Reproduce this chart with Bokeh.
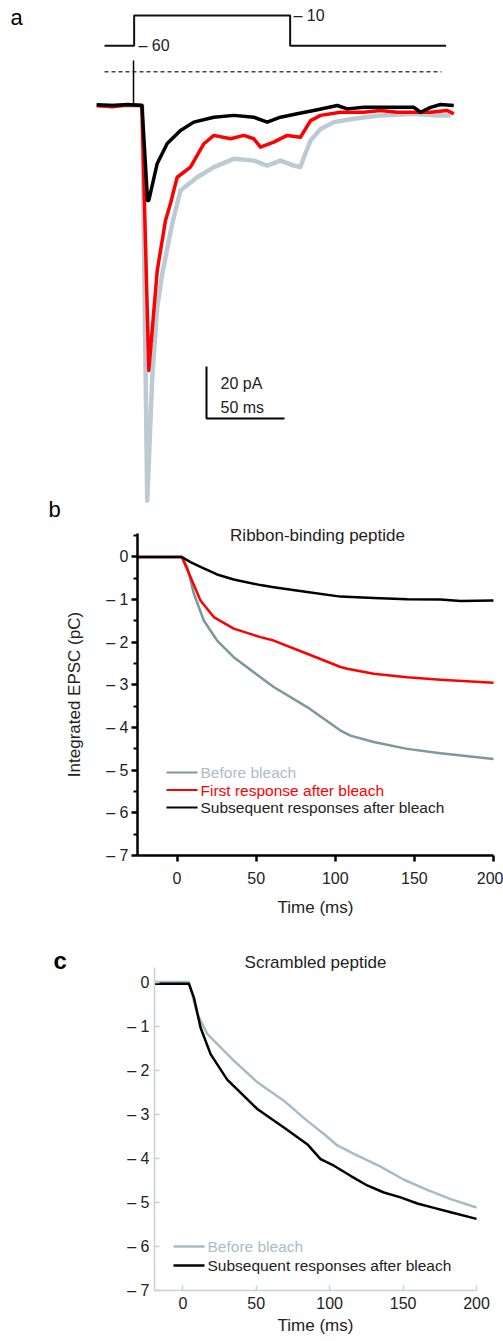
from bokeh.plotting import figure
from bokeh.models import Range1d, Label, FixedTicker, LinearAxis
from bokeh.embed import file_html
from bokeh.resources import INLINE

FONT = "Liberation Sans"

# ---------------- data ----------------
# panel a: EPSC traces (time ms, current pA)
a_gray_t = [-30, -20, -10, -0.8, 2.4, 5.6, 8.8, 12.0, 18.4, 23.7, 34.4, 45.1, 57.9, 70.7, 79.3, 87.8,
            96.3, 100.6, 102.8, 107.1, 113.5, 122.0, 134.8, 151.9, 173.3, 186.1, 196.8]
a_gray_i = [0, 0, 0, 0, -152, -104.5, -77.6, -64.7, -45.5, -32.7, -27.6, -23.7, -20.5, -21.2, -23.1, -21.2,
            -23.1, -23.7, -19.9, -13.5, -9.0, -6.4, -5.1, -3.8, -3.2, -3.8, -3.8]
a_red_t = [-30, -20, -10, -1, 3.4, 4.5, 8.8, 14.1, 17.3, 19.4, 21.6, 30.1, 38.7, 45.1, 55.8, 64.3, 70.7,
           75.0, 83.5, 92.1, 100.6, 107.1, 113.5, 126.3, 141.2, 151.9, 162.6, 173.3, 184.0, 194.7, 198.9]
a_red_i = [0, -0.5, 0.3, 0, -101.9, -94.2, -63.5, -44.2, -37.7, -32.7, -27.6, -23.7, -14.7, -11.5, -12.8,
           -11.5, -12.8, -16.0, -14.1, -11.5, -12.2, -5.8, -3.8, -2.6, -2.6, -1.9, -2.6, -2.6, -2.6, -1.9, -3.2]
a_black_t = [-30, -20, -10, -1, 2.6, 3.4, 8.8, 15.2, 23.7, 32.2, 45.1, 57.9, 70.7, 79.3, 87.8, 98.5, 109.2,
             124.2, 130.6, 141.2, 151.9, 162.6, 173.3, 177.6, 184.0, 190.4, 198.9]
a_black_i = [0.3, 0, 0.4, 0, -36.5, -36.5, -22.3, -14.6, -9.6, -6.4, -4.5, -3.8, -4.5, -6.4, -4.5, -3.2,
             -1.9, 0, -1.3, -0.7, -0.7, -0.7, -0.7, -2.6, -0.7, 0.4, 0]
a_artifact_t = [-6.4, -6.4]
a_artifact_i = [0.8, 17.3]
# command voltage schematic (step -60 -> -10 mV), drawn above the traces
step_t = [-25, -6, -6, 94, 94, 194]
step_level = [23, 23, 34.6, 34.6, 23, 23]
zero_t = [-25, 191]
zero_i = [13, 13]
step_labels = ["– 60", "– 10"]
scalebar_ms = 50
scalebar_pa = 20
scalebar_labels = ["20 pA", "50 ms"]

# panel b: integrated EPSC (pC), ribbon-binding peptide
b_gray_t = [-25, 3, 6.4, 10.6, 16.9, 25.3, 35.8, 52.7, 61.1, 82.2, 103.3, 109.6, 124.3, 145.4, 166.5, 200]
b_gray_v = [0, 0, -0.23, -0.86, -1.49, -1.96, -2.35, -2.82, -3.05, -3.52, -4.07, -4.19, -4.34, -4.50, -4.60, -4.74]
b_red_t = [-25, 3, 8.5, 14.8, 23.2, 35.8, 52.7, 61.1, 82.2, 103.3, 107.5, 124.3, 145.4, 166.5, 200]
b_red_v = [0, 0, -0.47, -1.02, -1.41, -1.68, -1.88, -1.96, -2.27, -2.58, -2.62, -2.74, -2.82, -2.88, -2.95]
b_black_t = [-25, 3, 8.5, 14.8, 25.3, 35.8, 52.7, 61.1, 82.2, 103.3, 124.3, 145.4, 166.5, 179.1, 200]
b_black_v = [0, 0, -0.12, -0.23, -0.41, -0.53, -0.66, -0.71, -0.82, -0.93, -0.96, -0.99, -1.0, -1.03, -1.02]
b_legend = ["Before bleach", "First response after bleach", "Subsequent responses after bleach"]

# panel c: integrated EPSC (pC), scrambled peptide
c_gray_t = [-19.3, 4.1, 9.8, 16.6, 34.7, 50.7, 68.8, 84.7, 96.1, 105.2, 116.5, 134.7, 150.6, 166.5, 182.4, 200]
c_gray_v = [0.02, 0.02, -0.70, -1.16, -1.77, -2.26, -2.68, -3.14, -3.44, -3.70, -3.89, -4.18, -4.48, -4.71, -4.92, -5.11]
c_black_t = [-19.3, 4.1, 7.5, 12.1, 18.9, 30.2, 50.7, 68.8, 84.7, 93.8, 102.9, 114.2, 125.6, 136.9, 148.3,
             159.7, 171.0, 182.4, 200]
c_black_v = [-0.02, -0.02, -0.33, -1.02, -1.62, -2.2, -2.87, -3.29, -3.67, -4.01, -4.16, -4.39, -4.61, -4.77,
             -4.88, -5.02, -5.12, -5.22, -5.37]
c_legend = ["Before bleach", "Subsequent responses after bleach"]

x_ticks = [0, 50, 100, 150, 200]
y_ticks = [0, -1, -2, -3, -4, -5, -6, -7]
y_minor_b = [0.5, -0.5, -1.5, -2.5, -3.5, -4.5, -5.5, -6.5]
b_xlim = (-25, 200)
b_ylim = (-7, 0.55)
c_xlim = (-19.3, 200)
c_ylim = (-7, 0.35)

# ---------------- styles ----------------
RED = "#ff0000"
BLACK = "#000000"
GRAY_A = "#bccbd3"
GRAY_B = "#7d979e"
GRAY_C = "#a5bcc6"
GRAY_TXT = "#a9bec8"
TXT = "#222222"
W, H = 503, 1341


# page-pixel -> data converters for each panel (one canvas, three coordinate systems)
def ax(X):
    return (X - 143) / 1.56          # panel a: 1.56 px per ms, t=0 at page x 143


def ay(Y):
    return (105 - Y) / 2.6           # panel a: 2.6 px per pA, 0 pA at page y 105


def bx(X):
    return -25 + (X - 137) * 225 / 356


def by(Y):
    return 0.55 - (Y - 533) * 7.55 / 322


def cx(X):
    return -19.3 + (X - 154) * 219.3 / 322


def cy(Y):
    return 0.35 - (Y - 967) * 7.35 / 323


p = figure(width=W, height=H, x_range=Range1d(bx(0), bx(W)), y_range=Range1d(by(H), by(0)),
           output_backend="svg", toolbar_location=None, min_border=0, min_border_left=0,
           min_border_right=0, min_border_top=0, min_border_bottom=0,
           x_axis_label="Time (ms)", y_axis_label="Integrated EPSC (pC)")
p.extra_x_ranges = {"a": Range1d(ax(0), ax(W)), "c": Range1d(cx(0), cx(W))}
p.extra_y_ranges = {"a": Range1d(ay(H), ay(0)), "c": Range1d(cy(H), cy(0))}
p.outline_line_color = None
p.xgrid.visible = False
p.ygrid.visible = False
p.background_fill_color = "white"
p.border_fill_color = "white"


def lab(x, y, text, rn="default", size="16px", color=TXT, align="left", baseline="middle", style="normal"):
    p.add_layout(Label(x=x, y=y, text=text, text_font=FONT, text_font_size=size, text_color=color,
                       text_align=align, text_baseline=baseline, text_font_style=style,
                       x_range_name=rn, y_range_name=rn))


def style_axis(axis, color, lw, tick_in, tick_out):
    axis.axis_line_width = lw
    axis.axis_line_color = color
    axis.major_tick_line_width = lw
    axis.major_tick_line_color = color
    axis.minor_tick_line_width = lw * 0.8
    axis.minor_tick_line_color = color
    axis.major_tick_in = tick_in
    axis.major_tick_out = tick_out
    axis.minor_tick_in = 0
    axis.minor_tick_out = 4
    axis.major_label_text_font = FONT
    axis.major_label_text_font_size = "16px"
    axis.major_label_text_color = TXT
    axis.axis_label_text_font = FONT
    axis.axis_label_text_font_size = "17px"
    axis.axis_label_text_font_style = "normal"
    axis.axis_label_text_color = TXT


dash_labels = {t: ("0" if t == 0 else "– %d" % abs(t)) for t in y_ticks}

# ---------------- panel a ----------------
A = dict(x_range_name="a", y_range_name="a")
p.line(step_t, step_level, line_color="#111111", line_width=2, **A)
p.line(zero_t, zero_i, line_color="#444444", line_width=1.5, line_dash="4 3", **A)
p.line(a_gray_t, a_gray_i, line_color=GRAY_A, line_width=4.5, line_join="round", **A)
p.line(a_red_t, a_red_i, line_color=RED, line_width=3.5, line_join="round", **A)
p.line(a_black_t, a_black_i, line_color=BLACK, line_width=3.5, line_join="round", **A)
p.line(a_artifact_t, a_artifact_i, line_color=BLACK, line_width=1.5, **A)
sb_x, sb_y = ax(206), ay(418)
p.line([sb_x, sb_x, sb_x + scalebar_ms], [sb_y + scalebar_pa, sb_y, sb_y], line_color=BLACK, line_width=2, **A)
lab(ax(220), ay(383), scalebar_labels[0], "a")
lab(ax(220), ay(407), scalebar_labels[1], "a")
lab(ax(138), step_level[0], step_labels[0], "a")
lab(ax(293), step_level[2], step_labels[1], "a")
lab(ax(10), ay(17), "a", "a", size="22px", color=BLACK)

# ---------------- panel b (default ranges) ----------------
lab(bx(48), by(509), "b", size="22px", color=BLACK)
p.xaxis.fixed_location = b_ylim[0]
p.yaxis.fixed_location = b_xlim[0]
p.xaxis.bounds = b_xlim
p.yaxis.bounds = b_ylim
p.xaxis.ticker = FixedTicker(ticks=x_ticks)
p.yaxis.ticker = FixedTicker(ticks=y_ticks, minor_ticks=y_minor_b)
p.yaxis.major_label_overrides = dash_labels
style_axis(p.xaxis[0], BLACK, 2.5, 0, 6)
style_axis(p.yaxis[0], BLACK, 2.5, 0, 6)
p.xaxis.minor_tick_out = 0
p.xaxis.major_label_standoff = 10
p.yaxis.major_label_standoff = 3
p.xaxis.axis_label_standoff = 11
p.yaxis.axis_label_standoff = 19

p.line(b_gray_t, b_gray_v, line_color=GRAY_B, line_width=2.5, line_join="round")
p.line(b_red_t, b_red_v, line_color=RED, line_width=2.5, line_join="round")
p.line(b_black_t, b_black_v, line_color=BLACK, line_width=2.5, line_join="round")

lab(bx(317), by(535), "Ribbon-binding peptide", size="17px", align="center")
for k, (txt, lc, tc) in enumerate(zip(b_legend, [GRAY_B, RED, BLACK], [GRAY_TXT, RED, TXT])):
    yy = by(772 + 17.5 * k)
    p.line([bx(166), bx(197)], [yy, yy], line_color=lc, line_width=2)
    lab(bx(200), yy, txt, size="15.5px", color=tc)

# ---------------- panel c ----------------
C = dict(x_range_name="c", y_range_name="c")
cxa = LinearAxis(axis_label="Time (ms)", ticker=FixedTicker(ticks=x_ticks), fixed_location=c_ylim[0],
                 bounds=c_xlim, **C)
cya = LinearAxis(ticker=FixedTicker(ticks=y_ticks), fixed_location=c_xlim[0], bounds=c_ylim,
                 major_label_overrides=dash_labels, **C)
for axis in (cxa, cya):
    style_axis(axis, "#c9d1d4", 1.5, 5, 0)
    axis.minor_tick_line_color = None
cxa.major_label_standoff = 6
cya.major_label_standoff = 5
cxa.axis_label_standoff = 4
p.add_layout(cxa, "below")
p.add_layout(cya, "left")

p.line(c_gray_t, c_gray_v, line_color=GRAY_C, line_width=2.5, line_join="round", **C)
p.line(c_black_t, c_black_v, line_color=BLACK, line_width=2.5, line_join="round", **C)

lab(cx(315), cy(962), "Scrambled peptide", "c", size="17px", align="center")
lab(cx(53), cy(960), "c", "c", size="24px", color=BLACK, style="bold")
for k, (txt, lc, tc) in enumerate(zip(c_legend, [GRAY_C, BLACK], [GRAY_TXT, TXT])):
    yy = cy(1246 + 19 * k)
    p.line([cx(173), cx(204)], [yy, yy], line_color=lc, line_width=2.5, **C)
    lab(cx(207), yy, txt, "c", size="15.5px", color=tc)

open("out.html", "w").write(file_html(p, INLINE))
